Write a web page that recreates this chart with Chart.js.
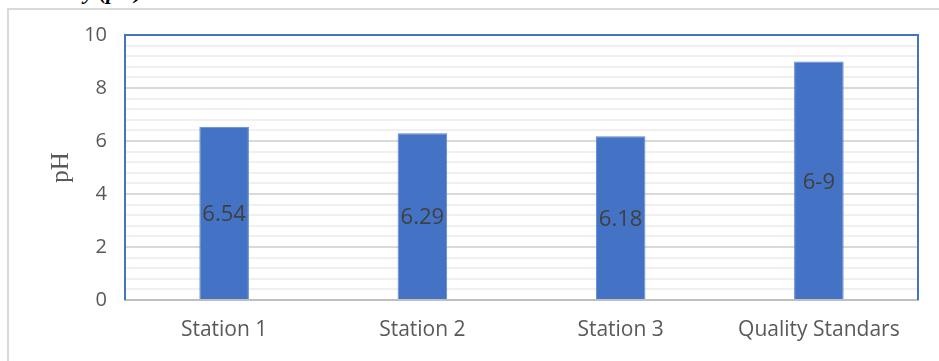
<!DOCTYPE html>
<html>
<head>
<meta charset="utf-8">
<script src="https://cdn.jsdelivr.net/npm/chart.js@4"></script>
<style>
    body { margin: 0; background: #ffffff; }
    #wrap { position: relative; width: 939px; height: 361px; overflow: hidden; }
    #frame { position: absolute; left: 7px; top: 8px; right: -5px; bottom: -5px; border-left: 2px solid #d9d9d9; border-top: 2px solid #d9d9d9; }
    #cut { position: absolute; left: 30px; top: -21px; font: italic bold 22px 'Liberation Serif', serif; color: #000; white-space: nowrap; }
    canvas { position: absolute; left: 0; top: 0; }
</style>
</head>
<body>
<div id="wrap">
    <div id="cut">Acidity (pH)</div>
    <div id="frame"></div>
    <canvas id="phChart" width="939" height="361"></canvas>
</div>
<script>
// Data läst från bilden
const stations = ['Station 1', 'Station 2', 'Station 3', 'Quality Standars']
const phValues = [6.54, 6.29, 6.18, 9]
const barLabels = ['6.54', '6.29', '6.18', '6-9']
const yTicks = [0, 2, 4, 6, 8, 10]

const isMajor = (v) => yTicks.some((t) => Math.abs(t - v) < 1e-6)

// Etiketter mitt i staplarna
const barLabelPlugin = {
    id: 'barLabels',
    afterDatasetsDraw(chart) {
        const ctx = chart.ctx
        const meta = chart.getDatasetMeta(0)
        ctx.save()
        ctx.font = '22px "Open Sans", sans-serif'
        ctx.fillStyle = '#404040'
        ctx.textAlign = 'center'
        ctx.textBaseline = 'middle'
        meta.data.forEach((bar, i) => {
            ctx.fillText(barLabels[i], bar.x, (bar.y + bar.base) / 2 + 2)
        })
        ctx.restore()
    }
}

// Blå ram runt ritytan (vänster, topp, höger)
const plotBorderPlugin = {
    id: 'plotBorder',
    afterDraw(chart) {
        const { left, right, top, bottom } = chart.chartArea
        const ctx = chart.ctx
        ctx.save()
        ctx.strokeStyle = '#4472c4'
        ctx.lineWidth = 2
        ctx.beginPath()
        ctx.moveTo(left, bottom)
        ctx.lineTo(left, top)
        ctx.lineTo(right, top)
        ctx.lineTo(right, bottom)
        ctx.stroke()
        ctx.restore()
    }
}

new Chart(document.getElementById('phChart'), {
    type: 'bar',
    data: {
        labels: stations,
        datasets: [
            {
                label: 'pH',
                data: phValues,
                backgroundColor: '#4472c4',
                borderColor: '#5b86d2',
                borderWidth: 1,
                categoryPercentage: 1,
                barPercentage: 0.25
            }
        ]
    },
    options: {
        responsive: false,
        animation: false,
        events: [],
        layout: {
            padding: { top: 35, right: 21, left: 0, bottom: 0 }
        },
        plugins: {
            legend: { display: false },
            tooltip: { enabled: false }
        },
        scales: {
            x: {
                grid: { display: false, drawTicks: false },
                border: { color: '#bfbfbf', width: 2 },
                ticks: {
                    color: '#595959',
                    font: { family: 'Open Sans', size: 21 },
                    padding: 17
                },
                afterFit(scale) {
                    scale.height = 61
                }
            },
            y: {
                min: 0,
                max: 10,
                grid: {
                    drawTicks: false,
                    color: (c) => (isMajor(c.tick.value) ? '#d9d9d9' : '#f0f0f0'),
                    lineWidth: 2
                },
                border: { display: false },
                ticks: {
                    stepSize: 0.4,
                    autoSkip: false,
                    color: '#595959',
                    font: { family: 'Open Sans', size: 20 },
                    padding: 18,
                    callback: (v) => (isMajor(v) ? String(Math.round(v)) : '')
                },
                title: {
                    display: true,
                    text: 'pH',
                    color: '#595959',
                    font: { family: 'Liberation Serif', size: 25 },
                    padding: { top: 46, bottom: 0 }
                },
                afterFit(scale) {
                    scale.width = 125
                }
            }
        }
    },
    plugins: [barLabelPlugin, plotBorderPlugin]
})
</script>
</body>
</html>
